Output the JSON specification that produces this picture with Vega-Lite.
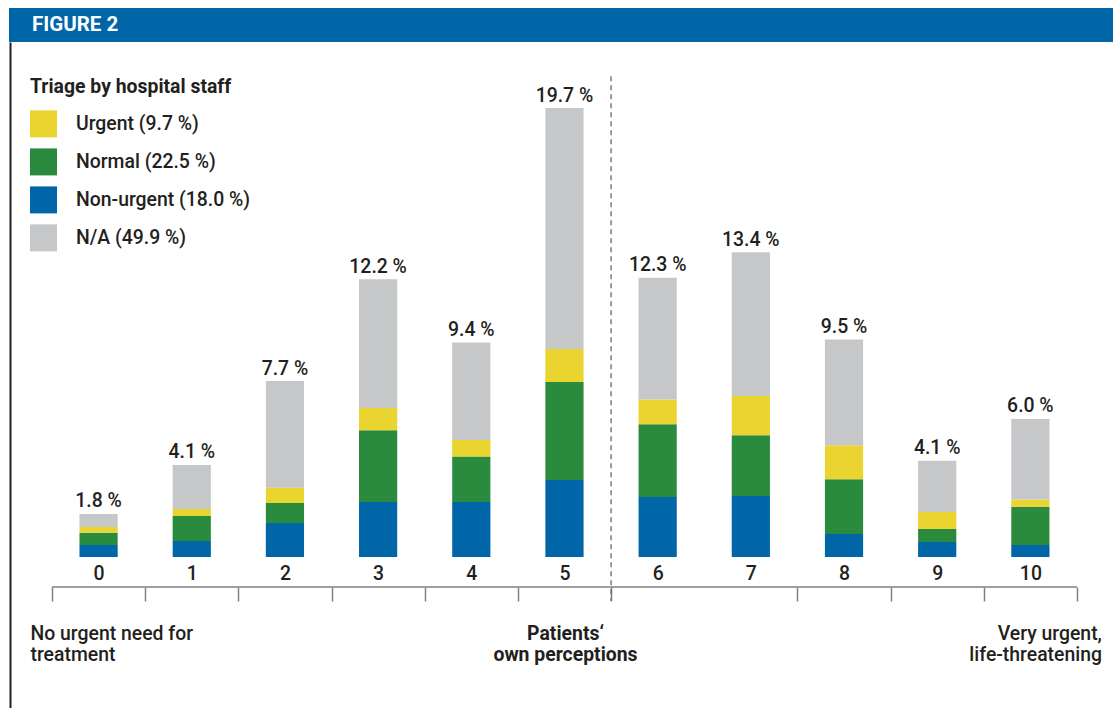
{
  "$schema": "https://vega.github.io/schema/vega-lite/v6.json",
  "padding": {"left": 9, "top": 8, "right": 0, "bottom": 0},
  "background": "white",
  "columns": 1,
  "align": "none",
  "spacing": 0,
  "config": {
    "font": "Roboto",
    "view": {"stroke": null},
    "text": {"color": "#231f20"}
  },
  "concat": [
    {
      "width": 1104,
      "height": 34,
      "view": {"fill": "#0066a8", "stroke": null},
      "title": {"text": "FIGURE 2", "color": "#ffffff", "fontSize": 20.5, "fontWeight": "bold", "anchor": "start", "frame": "group", "baseline": "alphabetic", "offset": -43, "dx": 23},
      "data": {"values": [{"band": "header"}]},
      "mark": {"type": "rect", "color": "#0066a8"},
      "encoding": {}
    },
    {
      "width": 1104,
      "height": 666,
      "data": {
        "values": [
          {"k": 0, "triage": "Non-urgent (18.0 %)", "level": 1, "value": 0.53, "total": "1.8 %"},
          {"k": 0, "triage": "Normal (22.5 %)", "level": 2, "value": 0.53, "total": "1.8 %"},
          {"k": 0, "triage": "Urgent (9.7 %)", "level": 3, "value": 0.26, "total": "1.8 %"},
          {"k": 0, "triage": "N/A (49.9 %)", "level": 4, "value": 0.57, "total": "1.8 %"},
          {"k": 1, "triage": "Non-urgent (18.0 %)", "level": 1, "value": 0.70, "total": "4.1 %"},
          {"k": 1, "triage": "Normal (22.5 %)", "level": 2, "value": 1.10, "total": "4.1 %"},
          {"k": 1, "triage": "Urgent (9.7 %)", "level": 3, "value": 0.31, "total": "4.1 %"},
          {"k": 1, "triage": "N/A (49.9 %)", "level": 4, "value": 1.93, "total": "4.1 %"},
          {"k": 2, "triage": "Non-urgent (18.0 %)", "level": 1, "value": 1.49, "total": "7.7 %"},
          {"k": 2, "triage": "Normal (22.5 %)", "level": 2, "value": 0.88, "total": "7.7 %"},
          {"k": 2, "triage": "Urgent (9.7 %)", "level": 3, "value": 0.67, "total": "7.7 %"},
          {"k": 2, "triage": "N/A (49.9 %)", "level": 4, "value": 4.68, "total": "7.7 %"},
          {"k": 3, "triage": "Non-urgent (18.0 %)", "level": 1, "value": 2.41, "total": "12.2 %"},
          {"k": 3, "triage": "Normal (22.5 %)", "level": 2, "value": 3.15, "total": "12.2 %"},
          {"k": 3, "triage": "Urgent (9.7 %)", "level": 3, "value": 0.98, "total": "12.2 %"},
          {"k": 3, "triage": "N/A (49.9 %)", "level": 4, "value": 5.65, "total": "12.2 %"},
          {"k": 4, "triage": "Non-urgent (18.0 %)", "level": 1, "value": 2.41, "total": "9.4 %"},
          {"k": 4, "triage": "Normal (22.5 %)", "level": 2, "value": 2.00, "total": "9.4 %"},
          {"k": 4, "triage": "Urgent (9.7 %)", "level": 3, "value": 0.73, "total": "9.4 %"},
          {"k": 4, "triage": "N/A (49.9 %)", "level": 4, "value": 4.27, "total": "9.4 %"},
          {"k": 5, "triage": "Non-urgent (18.0 %)", "level": 1, "value": 3.38, "total": "19.7 %"},
          {"k": 5, "triage": "Normal (22.5 %)", "level": 2, "value": 4.30, "total": "19.7 %"},
          {"k": 5, "triage": "Urgent (9.7 %)", "level": 3, "value": 1.45, "total": "19.7 %"},
          {"k": 5, "triage": "N/A (49.9 %)", "level": 4, "value": 10.57, "total": "19.7 %"},
          {"k": 6, "triage": "Non-urgent (18.0 %)", "level": 1, "value": 2.63, "total": "12.3 %"},
          {"k": 6, "triage": "Normal (22.5 %)", "level": 2, "value": 3.20, "total": "12.3 %"},
          {"k": 6, "triage": "Urgent (9.7 %)", "level": 3, "value": 1.08, "total": "12.3 %"},
          {"k": 6, "triage": "N/A (49.9 %)", "level": 4, "value": 5.35, "total": "12.3 %"},
          {"k": 7, "triage": "Non-urgent (18.0 %)", "level": 1, "value": 2.68, "total": "13.4 %"},
          {"k": 7, "triage": "Normal (22.5 %)", "level": 2, "value": 2.66, "total": "13.4 %"},
          {"k": 7, "triage": "Urgent (9.7 %)", "level": 3, "value": 1.73, "total": "13.4 %"},
          {"k": 7, "triage": "N/A (49.9 %)", "level": 4, "value": 6.30, "total": "13.4 %"},
          {"k": 8, "triage": "Non-urgent (18.0 %)", "level": 1, "value": 1.01, "total": "9.5 %"},
          {"k": 8, "triage": "Normal (22.5 %)", "level": 2, "value": 2.40, "total": "9.5 %"},
          {"k": 8, "triage": "Urgent (9.7 %)", "level": 3, "value": 1.49, "total": "9.5 %"},
          {"k": 8, "triage": "N/A (49.9 %)", "level": 4, "value": 4.65, "total": "9.5 %"},
          {"k": 9, "triage": "Non-urgent (18.0 %)", "level": 1, "value": 0.66, "total": "4.1 %"},
          {"k": 9, "triage": "Normal (22.5 %)", "level": 2, "value": 0.57, "total": "4.1 %"},
          {"k": 9, "triage": "Urgent (9.7 %)", "level": 3, "value": 0.75, "total": "4.1 %"},
          {"k": 9, "triage": "N/A (49.9 %)", "level": 4, "value": 2.24, "total": "4.1 %"},
          {"k": 10, "triage": "Non-urgent (18.0 %)", "level": 1, "value": 0.53, "total": "6.0 %"},
          {"k": 10, "triage": "Normal (22.5 %)", "level": 2, "value": 1.67, "total": "6.0 %"},
          {"k": 10, "triage": "Urgent (9.7 %)", "level": 3, "value": 0.32, "total": "6.0 %"},
          {"k": 10, "triage": "N/A (49.9 %)", "level": 4, "value": 3.54, "total": "6.0 %"}
        ]
      },
      "layer": [
        {
          "mark": {"type": "bar", "width": {"band": 0.41}},
          "encoding": {
            "x": {
              "field": "k",
              "type": "ordinal",
              "scale": {"paddingInner": 0, "paddingOuter": 0.424, "align": 0.544},
              "axis": {
                "orient": "bottom",
                "offset": -121,
                "title": ["Patients‘", "own perceptions"],
                "titleFontWeight": "bold",
                "titleFontSize": 19.4,
                "titleColor": "#231f20",
                "titleBaseline": "alphabetic",
                "titleX": 556,
                "titleY": 52,
                "titleLineHeight": 21,
                "domain": false,
                "tickColor": "#808080",
                "tickWidth": 1.5,
                "tickSize": 14,
                "tickBand": "extent",
                "tickOpacity": {"condition": {"test": "datum.value === 6", "value": 0}, "value": 1},
                "labelAngle": 0,
                "labelFontSize": 19.4,
                "labelFontWeight": 500,
                "labelColor": "#231f20",
                "labelBaseline": "alphabetic",
                "labelPadding": -22,
                "grid": false
              }
            },
            "y": {
              "field": "value",
              "type": "quantitative",
              "stack": "zero",
              "scale": {"domain": [-6.626, 22.6], "nice": false, "zero": false},
              "axis": {"orient": "left", "offset": -1, "domainColor": "#231f20", "domainWidth": 2, "ticks": false, "labels": false, "grid": false, "title": null}
            },
            "color": {
              "field": "triage",
              "type": "nominal",
              "sort": ["Urgent (9.7 %)", "Normal (22.5 %)", "Non-urgent (18.0 %)", "N/A (49.9 %)"],
              "scale": {
                "domain": ["Urgent (9.7 %)", "Normal (22.5 %)", "Non-urgent (18.0 %)", "N/A (49.9 %)"],
                "range": ["#ead42f", "#2a8a3e", "#0066a8", "#c6c7c9"]
              },
              "legend": {
                "orient": "none",
                "legendX": 21,
                "legendY": 70,
                "title": "Triage by hospital staff",
                "titleFontSize": 19.4,
                "titleFontWeight": "bold",
                "titleColor": "#231f20",
                "titlePadding": 13,
                "titleLimit": 400,
                "labelFontSize": 19.4,
                "labelFontWeight": 500,
                "labelColor": "#231f20",
                "labelOffset": 19,
                "labelLimit": 400,
                "symbolType": "square",
                "symbolSize": 729,
                "symbolStrokeWidth": 0,
                "symbolOpacity": 1,
                "rowPadding": 11,
                "padding": 0
              }
            },
            "order": {"field": "level", "type": "quantitative", "sort": "ascending"}
          }
        },
        {
          "transform": [{"aggregate": [{"op": "sum", "field": "value", "as": "bar_top"}], "groupby": ["k", "total"]}],
          "mark": {"type": "text", "baseline": "alphabetic", "dy": -6.5, "fontSize": 19.4, "fontWeight": 500, "color": "#231f20"},
          "encoding": {
            "x": {"field": "k", "type": "ordinal"},
            "y": {"field": "bar_top", "type": "quantitative"},
            "text": {"field": "total"}
          }
        },
        {
          "data": {"values": [{"line": "scale baseline"}]},
          "mark": {"type": "rule", "color": "#808080", "strokeWidth": 1.5},
          "encoding": {
            "x": {"datum": 0, "type": "ordinal", "bandPosition": 0},
            "x2": {"datum": 10, "bandPosition": 1},
            "y": {"datum": -1.316}
          }
        },
        {
          "data": {"values": [{"divider": "patients' perception midpoint"}]},
          "mark": {"type": "rule", "strokeDash": [5, 4], "color": "#666666", "strokeWidth": 1.3},
          "encoding": {
            "x": {"datum": 6, "type": "ordinal", "bandPosition": 0},
            "y": {"datum": 21.1},
            "y2": {"datum": -1.93}
          }
        },
        {
          "data": {"values": [{"note": "No urgent need for\ntreatment"}]},
          "mark": {"type": "text", "align": "left", "baseline": "alphabetic", "lineBreak": "\n", "lineHeight": 21, "dx": -21.5, "fontSize": 19.4, "fontWeight": 500, "color": "#231f20"},
          "encoding": {
            "x": {"datum": 0, "type": "ordinal", "bandPosition": 0},
            "y": {"datum": -3.64},
            "text": {"field": "note"}
          }
        },
        {
          "data": {"values": [{"note": "Very urgent,\nlife-threatening"}]},
          "mark": {"type": "text", "align": "right", "baseline": "alphabetic", "lineBreak": "\n", "lineHeight": 21, "dx": 25, "fontSize": 19.4, "fontWeight": 500, "color": "#231f20"},
          "encoding": {
            "x": {"datum": 10, "type": "ordinal", "bandPosition": 1},
            "y": {"datum": -3.64},
            "text": {"field": "note"}
          }
        }
      ]
    }
  ]
}
